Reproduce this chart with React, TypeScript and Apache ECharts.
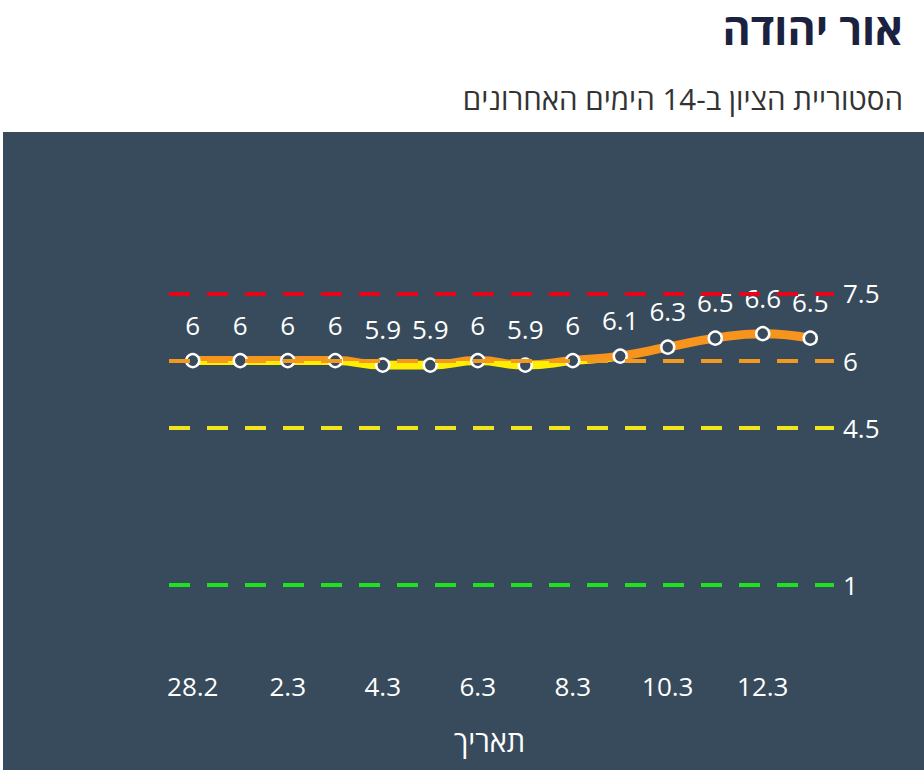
import React, { useEffect, useRef } from "react";
import * as echarts from "echarts";

const dates = ["28.2", "1.3", "2.3", "3.3", "4.3", "5.3", "6.3", "7.3", "8.3", "9.3", "10.3", "11.3", "12.3", "13.3"];
const scores = [6, 6, 6, 6, 5.9, 5.9, 6, 5.9, 6, 6.1, 6.3, 6.5, 6.6, 6.5];
const thresholds = [7.5, 6, 4.5, 1];
const thresholdColors = ["#e3061a", "#f39a1e", "#f2e41c", "#1fe21f"];

const titleText = "אור יהודה";
const subtitleText = "הסטוריית הציון ב-14 הימים האחרונים";
const xAxisName = "תאריך";

const PANEL = "#384b5c";
const FONT = "'Open Sans', 'Noto Sans', 'DejaVu Sans', sans-serif";

export default function App() {
  const ref = useRef<HTMLDivElement>(null);
  useEffect(() => {
    if (!ref.current) return;
    const chart = echarts.init(ref.current, null, { renderer: "svg" });
    chart.setOption({
      animation: false,
      backgroundColor: "#ffffff",
      textStyle: { fontFamily: FONT },
      title: [
        {
          text: titleText,
          right: 21,
          top: 5,
          padding: 0,
          textStyle: {
            fontSize: 43,
            lineHeight: 46,
            fontWeight: "bold",
            color: "#1b2240",
            fontFamily: FONT,
          },
        },
        {
          text: subtitleText,
          right: 16,
          top: 78,
          textStyle: { fontSize: 29.5, fontWeight: "normal", color: "#333333", fontFamily: FONT },
        },
      ],
      graphic: [
        {
          type: "rect",
          z: -10,
          shape: { x: 3, y: 132, width: 921, height: 638 },
          style: { fill: PANEL },
        },
      ],
      grid: { left: 169, right: 90, top: 181, bottom: 140 },
      xAxis: {
        type: "category",
        data: dates,
        boundaryGap: true,
        axisLine: { show: false },
        axisTick: { show: false },
        axisLabel: { interval: 1, color: "#ffffff", fontSize: 26, margin: 43, fontFamily: FONT },
        name: xAxisName,
        nameLocation: "middle",
        nameGap: 96,
        nameTextStyle: { color: "#ffffff", fontSize: 29, fontFamily: FONT, padding: [0, 24, 0, 0] },
      },
      yAxis: {
        type: "value",
        min: 0,
        max: 10,
        show: false,
        splitLine: { show: false },
      },
      visualMap: [
        {
          type: "piecewise",
          show: false,
          seriesIndex: 0,
          dimension: 1,
          pieces: [
            { gte: 0, lte: 6, color: "#ffee00" },
            { gt: 6, lte: 10, color: "#f7941d" },
          ],
          outOfRange: { color: "#f7941d" },
        },
      ],
      series: [
        {
          type: "line",
          data: scores,
          smooth: true,
          showSymbol: false,
          lineStyle: { width: 9 },
          z: 2,
          silent: true,
        },
        {
          type: "line",
          data: scores,
          showSymbol: false,
          lineStyle: { width: 0, opacity: 0 },
          z: 3,
          silent: true,
          markLine: {
            silent: true,
            symbol: "none",
            lineStyle: { type: [21, 17], width: 4 },
            label: {
              position: "end",
              color: "#ffffff",
              fontSize: 26,
              distance: 9,
              fontFamily: FONT,
            },
            data: thresholds.map((v, i) => ({
              yAxis: v,
              lineStyle: { color: thresholdColors[i], type: [21, 17], width: 4 },
            })),
          },
        },
        {
          type: "line",
          data: scores,
          z: 4,
          lineStyle: { width: 0, opacity: 0 },
          symbol: "circle",
          symbolSize: 13,
          showAllSymbol: true,
          itemStyle: { color: PANEL, borderColor: "#ffffff", borderWidth: 2.5 },
          label: {
            show: true,
            position: "top",
            distance: 15,
            color: "#ffffff",
            fontSize: 26,
            fontFamily: FONT,
          },
        },
      ],
    });
    return () => chart.dispose();
  }, []);
  return (
    <div
      ref={ref}
      style={{ position: "fixed", left: 0, top: 0, width: 924, height: 770 }}
    />
  );
}
